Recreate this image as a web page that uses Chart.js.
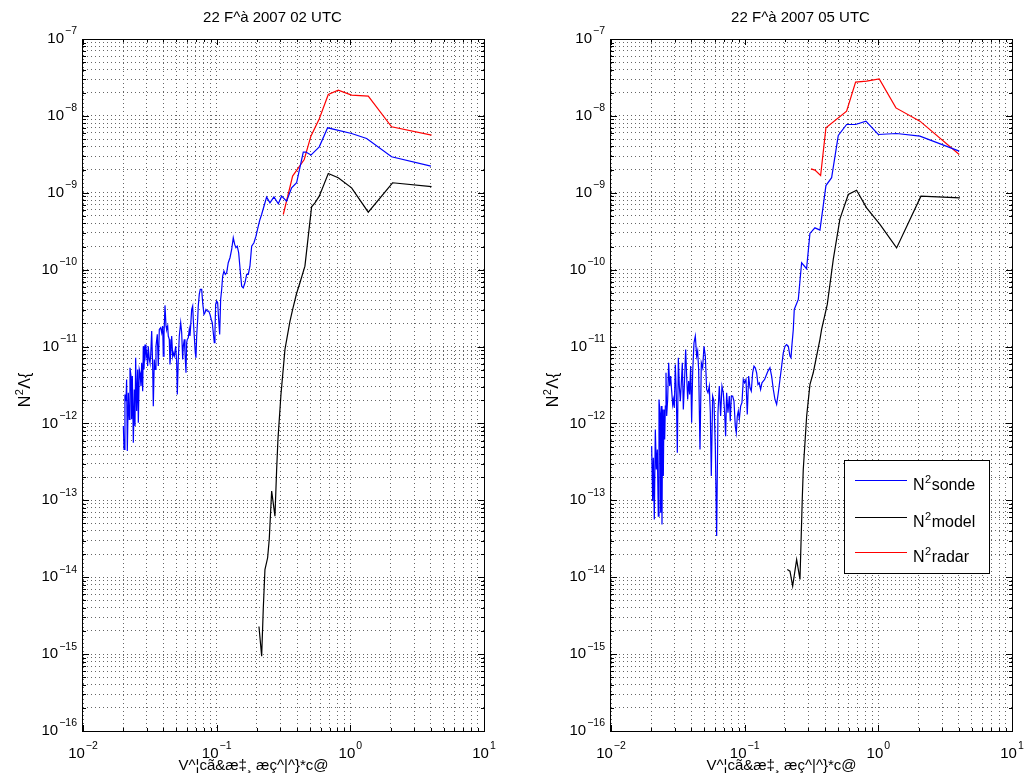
<!DOCTYPE html>
<html><head><meta charset="utf-8">
<script src="https://cdn.jsdelivr.net/npm/chart.js@4.4.0/dist/chart.umd.min.js"></script>
<style>
html,body{margin:0;padding:0;background:#fff;}
#wrap{position:relative;width:1024px;height:780px;overflow:hidden;}
canvas{position:absolute;top:0;}
</style></head><body>
<div id="wrap">
<canvas id="c1" width="512" height="780" style="left:0"></canvas>
<canvas id="c2" width="512" height="780" style="left:512px"></canvas>
</div>
<script>
// ---------- text ----------
const titles = ['22 F^à 2007 02 UTC', '22 F^à 2007 05 UTC'];
const xLabel = 'V^¦cã&æ‡¸ æç^|^}*c@';
const yLabelParts = ['N', '2', 'Λ{'];
const legendNames = ['sonde', 'model', 'radar'];
const xTickExps = [-2, -1, 0, 1];
const yTickExps = [-16, -15, -14, -13, -12, -11, -10, -9, -8, -7];

// ---------- left panel (02 UTC) ----------
const sondeL_f = [0.02004,0.02027,0.0206,0.02097,0.0212,0.02146,0.02183,0.0222,0.02247,0.02286,
 0.02312,0.02339,0.0238,0.0242,0.02449,0.02477,0.0252,0.02565,0.02594,0.02637,
 0.0267,0.02715,0.02748,0.02796,0.02825,0.02858,0.0291,0.0296,0.02995,0.03047,
 0.03078,0.03132,0.0317,0.03209,0.03265,0.0332,0.03357,0.03415,0.03457,0.03516,
 0.03596,0.03659,0.03723,0.03813,0.0388,0.03947,0.03988,0.04036,0.04106,0.04178,
 0.04227,0.043,0.04345,0.0442,0.04474,0.0455,0.04607,0.04687,0.04736,0.0482,
 0.04937,0.05022,0.05075,0.05163,0.05253,0.0538,0.05474,0.05569,0.05627,0.05725,
 0.05794,0.05895,0.05966,0.06028,0.06133,0.0624,0.06315,0.0639,0.06501,0.06615,
 0.06683,0.068,0.06918,0.07002,0.07086,0.07209,0.07284,0.07411,0.0754,0.07724,
 0.07858,0.08035,0.08175,0.08318,0.08507,0.08715,0.08912,0.09114,0.09273,0.09435,
 0.096,0.09712,0.09828,0.1,0.1017,0.1035,0.1053,0.1071,0.109,0.1109,
 0.1134,0.116,0.1188,0.1221,0.1258,0.1295,0.1331,0.1364,0.1394,0.1426,
 0.1461,0.1494,0.1538,0.1581,0.1628,0.1677,0.1724,0.1774,0.1827,0.1901,
 0.1968,0.2048,0.2108,
 0.2169,0.2364,0.2504,0.2683,0.2891,0.3061,0.3336,0.3637,0.3963,0.4446,0.4655,0.5074,0.5856,0.6761,1.022,1.324,2.035,4.007];
const sondeL_v = [9.25e-13,4.59e-13,2.38e-12,1.95e-12,3.73e-12,4.37e-13,2.51e-12,1.13e-12,5.30e-12,4.13e-12,
 1.13e-12,4.13e-12,5.61e-13,2.77e-12,9.25e-13,7.14e-12,1.45e-12,5.04e-12,1.02e-12,5.04e-12,
 4.56e-12,3.06e-12,6.15e-12,2.63e-12,1.01e-11,5.04e-12,1.06e-11,7.52e-12,8.30e-12,5.57e-12,
 1.01e-11,6.79e-12,6.15e-12,7.52e-12,1.59e-11,5.57e-12,1.68e-12,6.79e-12,5.04e-12,1.01e-11,
 1.44e-11,5.57e-12,1.67e-11,1.76e-11,1.51e-11,1.85e-11,7.52e-12,1.44e-11,3.43e-11,1.85e-11,
 1.67e-11,1.85e-11,1.37e-11,1.24e-11,5.85e-12,9.16e-12,1.37e-11,7.52e-12,8.30e-12,7.52e-12,
 1.01e-11,6.15e-12,2.38e-12,6.79e-12,1.37e-11,2.04e-11,1.51e-11,6.79e-12,1.01e-11,1.24e-11,
 8.30e-12,4.56e-12,1.12e-11,1.24e-11,1.30e-11,1.67e-11,1.37e-11,1.85e-11,3.04e-11,3.36e-11,
 2.25e-11,1.37e-11,8.30e-12,7.14e-12,1.37e-11,2.25e-11,3.36e-11,4.76e-11,5.53e-11,5.53e-11,
 3.71e-11,2.62e-11,2.75e-11,3.04e-11,2.89e-11,2.89e-11,2.62e-11,2.25e-11,2.04e-11,1.51e-11,
 1.12e-11,1.51e-11,3.53e-11,3.90e-11,3.71e-11,2.25e-11,1.44e-11,4.10e-11,5.53e-11,8.24e-11,
 9.57e-11,8.67e-11,9.10e-11,1.23e-10,1.43e-10,1.83e-10,2.60e-10,2.13e-10,1.93e-10,2.02e-10,
 1.66e-10,1.06e-10,6.11e-11,5.81e-11,6.75e-11,8.67e-11,8.67e-11,1.11e-10,2.02e-10,2.24e-10,
 2.73e-10,3.68e-10,4.50e-10,
 5.22e-10,8.78e-10,7.41e-10,8.86e-10,7.19e-10,9.04e-10,7.79e-10,1.16e-9,1.35e-9,3.38e-9,3.38e-9,3.09e-9,3.96e-9,7.0e-9,5.9e-9,5.08e-9,2.94e-9,2.22e-9];
const modelL_f = [0.2072,0.2171,0.2231,0.2297,0.2406,0.2473,0.2579,0.2729,0.2810,0.2874,0.3027,0.3243,0.3533,0.3703,0.396,0.4198,0.4574,0.4846,0.5132,0.5435,0.5856,0.684,0.812,1.022,1.362,2.07,4.053];
const modelL_v = [2.29e-15,9.4e-16,3.81e-15,1.26e-14,1.79e-14,3.1e-14,1.32e-13,6.2e-14,2.52e-13,6.2e-13,2.38e-12,9.2e-12,2.12e-11,3.04e-11,4.9e-11,6.75e-11,1.11e-10,2.73e-10,6.57e-10,7.41e-10,9.04e-10,1.78e-9,1.57e-9,1.16e-9,5.6e-10,1.35e-9,1.2e-9];
const radarL_f = [0.315,0.370,0.452,0.507,0.586,0.684,0.812,1.022,1.362,2.035,4.053];
const radarL_v = [5.22e-10,1.65e-9,2.71e-9,5.45e-9,9.16e-9,1.90e-8,2.16e-8,1.86e-8,1.81e-8,7.21e-9,5.62e-9];

// ---------- right panel (05 UTC) ----------
const sondeR_f = [0.02014,0.02049,0.02073,0.02109,0.02146,0.02183,0.02221,0.02259,0.02286,0.02326,
 0.02353,0.02380,0.02407,0.02435,0.02463,0.02492,0.02521,0.02550,0.02579,0.02609,
 0.02654,0.02700,0.02747,0.02795,0.02844,0.02893,0.02926,0.02977,0.03029,0.03082,
 0.03135,0.03190,0.03245,0.03302,0.03359,0.03417,0.03476,0.03537,0.03619,0.03681,
 0.03745,0.03810,0.03877,0.03944,0.04012,0.04082,0.04177,0.04274,0.04373,0.04449,
 0.04526,0.04632,0.04739,0.04849,0.04962,0.05077,0.05194,0.05315,0.05439,0.05534,
 0.05629,0.05760,0.05894,0.06030,0.06171,0.06314,0.06461,0.06610,0.06764,0.06921,
 0.07082,0.07204,0.07329,0.07500,0.07674,0.07806,0.07943,0.08128,0.08318,0.08509,
 0.08658,0.08809,0.08963,0.09120,0.09329,0.09546,0.09768,0.09993,0.1023,0.1046,
 0.1071,0.1096,0.1121,0.1147,0.1174,0.1201,0.1229,0.1258,0.1286,0.1316,
 0.1347,0.1378,0.1410,0.1443,0.1494,0.1546,0.1591,0.1638,0.1685,0.1734,
 0.1785,0.1837,0.1891,0.1945,0.2002,0.2060,0.2121,0.2182,0.2220,0.2259,0.2311,
 0.2350,0.2519,0.2667,0.2906,0.3078,0.3355,0.3658,0.4055,0.4472,0.5016,0.5790,0.676,0.8076,0.999,1.370,2.047,4.03];
const sondeR_v = [5.07e-13,9.77e-14,3.58e-13,5.65e-14,8.36e-13,2.52e-13,4.59e-13,6.24e-14,2.05e-12,1.38e-12,
 6.89e-14,1.68e-12,4.86e-14,1.52e-12,2.07e-13,1.52e-12,6.19e-13,1.68e-12,4.56e-12,1.25e-12,
 2.05e-12,6.15e-12,3.06e-12,4.13e-12,2.63e-12,1.77e-12,2.05e-12,1.60e-12,5.85e-12,2.27e-12,
 4.16e-13,7.14e-12,3.06e-12,1.95e-12,3.38e-12,6.15e-12,1.52e-12,3.06e-12,9.17e-12,4.13e-12,
 2.05e-12,3.55e-12,2.38e-12,5.57e-12,1.02e-12,4.56e-12,1.12e-11,1.37e-11,7.51e-12,8.72e-12,
 5.04e-12,4.59e-13,6.15e-12,5.30e-12,1.01e-11,7.51e-12,2.77e-12,2.51e-12,3.06e-12,1.38e-12,
 2.07e-13,2.27e-12,1.95e-12,5.07e-13,3.43e-14,1.38e-12,3.06e-12,1.25e-12,3.06e-12,2.51e-12,
 1.38e-12,6.84e-13,2.51e-12,1.38e-12,2.27e-12,1.07e-12,2.27e-12,2.27e-12,1.95e-12,9.23e-13,
 7.56e-13,1.25e-12,1.45e-12,1.13e-12,1.68e-12,1.86e-12,3.73e-12,3.38e-12,3.73e-12,1.31e-12,
 4.13e-12,2.91e-12,2.63e-12,4.56e-12,5.57e-12,5.30e-12,4.56e-12,3.22e-12,3.38e-12,2.77e-12,
 3.38e-12,3.55e-12,3.73e-12,4.13e-12,4.79e-12,5.30e-12,4.13e-12,2.77e-12,2.05e-12,1.77e-12,
 2.51e-12,3.73e-12,5.57e-12,8.30e-12,1.01e-11,1.06e-11,1.01e-11,7.51e-12,7.14e-12,1.06e-11,1.67e-11,
 3.04e-11,4.10e-11,1.23e-10,1.03e-10,2.96e-10,3.50e-10,3.27e-10,1.24e-9,1.57e-9,5.56e-9,7.73e-9,7.73e-9,8.54e-9,5.73e-9,5.90e-9,5.45e-9,3.48e-9];
const modelR_f = [0.2083,0.2182,0.2286,0.2448,0.2593,0.2697,0.2744,0.2909,0.3078,0.3258,0.3658,0.3763,0.4150,0.4602,0.5162,0.5958,0.6877,0.8168,1.028,1.370,2.083,4.076];
const modelR_v = [1.26e-14,1.2e-14,7.66e-15,1.70e-14,9.36e-15,1.03e-13,2.52e-13,1.24e-12,3.2e-12,4.56e-12,1.24e-11,1.67e-11,3.53e-11,1.36e-10,4.59e-10,9.50e-10,1.08e-9,6.37e-10,3.87e-10,1.92e-10,9.04e-10,8.6e-10];
const radarR_f = [0.3132,0.3355,0.3700,0.4055,0.5790,0.6760,0.8168,1.016,1.354,2.047,4.03];
const radarR_v = [2.05e-9,1.97e-9,1.68e-9,7.0e-9,1.15e-8,2.75e-8,2.83e-8,3.03e-8,1.27e-8,8.54e-9,3.15e-9];

const colors = ['#0000ff', '#000000', '#ff0000'];
const FONT = "'Liberation Sans', Arial, sans-serif";

function zip(f, v) { return f.map((x, i) => ({x: x, y: v[i]})); }
function gridValues(exps) {
  const out = [];
  for (let k = 0; k < exps.length; k++) {
    const e = exps[k];
    if (k === exps.length - 1) { out.push({value: Number('1e' + e), major: true}); break; }
    for (let m = 1; m <= 9; m++) out.push({value: Number(m + 'e' + e), major: m === 1});
  }
  return out;
}
const xGrid = gridValues(xTickExps);
const yGrid = gridValues(yTickExps);

function drawPow(ctx, exp, x, y, align) {
  const base = '10', sup = String(exp).replace('-', '\u2212');
  ctx.font = '15px ' + FONT;
  const wb = ctx.measureText(base).width;
  ctx.font = '10.5px ' + FONT;
  const ws = ctx.measureText(sup).width;
  const total = wb + ws + 1;
  let sx = align === 'right' ? x - total : x - total / 2;
  ctx.textAlign = 'left'; ctx.textBaseline = 'middle'; ctx.fillStyle = '#000';
  ctx.font = '15px ' + FONT; ctx.fillText(base, sx, y);
  ctx.font = '10.5px ' + FONT; ctx.fillText(sup, sx + wb + 1, y - 7.5);
}

function drawSupText(ctx, parts, x, y, size, align) {
  ctx.font = size + 'px ' + FONT;
  const w0 = ctx.measureText(parts[0]).width;
  const w2 = ctx.measureText(parts[2]).width;
  ctx.font = Math.round(size * 0.7) + 'px ' + FONT;
  const w1 = ctx.measureText(parts[1]).width;
  const total = w0 + w1 + w2 + 1;
  let sx = align === 'center' ? x - total / 2 : x;
  ctx.textAlign = 'left'; ctx.textBaseline = 'alphabetic'; ctx.fillStyle = '#000';
  ctx.font = size + 'px ' + FONT; ctx.fillText(parts[0], sx, y);
  ctx.font = Math.round(size * 0.7) + 'px ' + FONT; ctx.fillText(parts[1], sx + w0 + 0.5, y - size * 0.45);
  ctx.font = size + 'px ' + FONT; ctx.fillText(parts[2], sx + w0 + w1 + 1, y);
}

const decorPlugin = {
  id: 'decor',
  afterDraw(chart) {
    const ctx = chart.ctx, a = chart.chartArea, xs = chart.scales.x, ys = chart.scales.y;
    const p = chart.options.plugins.decor;
    ctx.save();
    // tick marks (inside, all four sides)
    ctx.strokeStyle = '#000'; ctx.lineWidth = 1; ctx.setLineDash([]);
    ctx.beginPath();
    xGrid.forEach(t => {
      const px = Math.round(xs.getPixelForValue(t.value)) + 0.5;
      const L = t.major ? 6 : 3;
      ctx.moveTo(px, a.bottom); ctx.lineTo(px, a.bottom - L);
      ctx.moveTo(px, a.top); ctx.lineTo(px, a.top + L);
    });
    yGrid.forEach(t => {
      const py = Math.round(ys.getPixelForValue(t.value)) + 0.5;
      const L = t.major ? 6 : 3;
      ctx.moveTo(a.left, py); ctx.lineTo(a.left + L, py);
      ctx.moveTo(a.right, py); ctx.lineTo(a.right - L, py);
    });
    ctx.stroke();
    // frame
    ctx.strokeRect(Math.round(a.left) - 0.5, Math.round(a.top) + 0.5, Math.round(a.right - a.left) + 1, Math.round(a.bottom - a.top));
    // tick labels
    xTickExps.forEach(e => drawPow(ctx, e, xs.getPixelForValue(Number('1e' + e)), a.bottom + 23, 'center'));
    yTickExps.forEach(e => drawPow(ctx, e, a.left - 6, ys.getPixelForValue(Number('1e' + e)), 'right'));
    // title
    const cx = (a.left + a.right) / 2;
    ctx.fillStyle = '#000'; ctx.textAlign = 'center'; ctx.textBaseline = 'alphabetic';
    ctx.font = '15px ' + FONT;
    ctx.fillText(p.title, cx - 11, 22);
    // x label
    ctx.fillText(xLabel, cx - 30, 770);
    // y label
    ctx.save();
    ctx.translate(a.left - 53, (a.top + a.bottom) / 2 + 5);
    ctx.rotate(-Math.PI / 2);
    drawSupText(ctx, yLabelParts, 0, 0, 16, 'center');
    ctx.restore();
    // legend
    if (p.legend) {
      const bx = a.right - 168, by = 460, bw = 145, bh = 113;
      ctx.fillStyle = '#fff'; ctx.fillRect(bx, by, bw, bh);
      ctx.strokeStyle = '#000'; ctx.lineWidth = 1;
      ctx.strokeRect(bx + 0.5, by + 0.5, bw, bh);
      const rows = [480, 517, 552];
      rows.forEach((ry, i) => {
        ctx.strokeStyle = colors[i]; ctx.lineWidth = 1.2;
        ctx.beginPath(); ctx.moveTo(bx + 11, ry + 0.5); ctx.lineTo(bx + 63, ry + 0.5); ctx.stroke();
        drawSupText(ctx, ['N', '2', legendNames[i]], bx + 69, ry + 10, 16, 'left');
      });
    }
    ctx.restore();
  }
};

function makeChart(id, panel) {
  return new Chart(document.getElementById(id), {
    type: 'line',
    data: {
      datasets: [
        {label: legendNames[0], data: zip(panel.sf, panel.sv), borderColor: colors[0]},
        {label: legendNames[1], data: zip(panel.mf, panel.mv), borderColor: colors[1]},
        {label: legendNames[2], data: zip(panel.rf, panel.rv), borderColor: colors[2]}
      ].map(d => Object.assign(d, {borderWidth: 1.2, pointRadius: 0, fill: false, tension: 0}))
    },
    options: {
      responsive: false, animation: false, devicePixelRatio: 1,
      layout: {padding: panel.pad},
      plugins: {legend: {display: false}, title: {display: false}, tooltip: {enabled: false},
        decor: {title: panel.title, legend: panel.legend}},
      scales: {
        x: {type: 'logarithmic', min: 0.01, max: 10,
          ticks: {display: false},
          grid: {color: '#666', lineWidth: 1, drawTicks: false},
          border: {display: false, dash: [1, 3]},
          afterBuildTicks: s => { s.ticks = xGrid.map(t => ({value: t.value})); },
          afterFit: s => { s.height = 0; }},
        y: {type: 'logarithmic', min: 1e-16, max: 1e-7,
          ticks: {display: false},
          grid: {color: '#666', lineWidth: 1, drawTicks: false},
          border: {display: false, dash: [1, 3]},
          afterBuildTicks: s => { s.ticks = yGrid.map(t => ({value: t.value})); },
          afterFit: s => { s.width = 0; }}
      }
    },
    plugins: [decorPlugin]
  });
}

makeChart('c1', {title: titles[0], sf: sondeL_f, sv: sondeL_v, mf: modelL_f, mv: modelL_v, rf: radarL_f, rv: radarL_v,
  legend: false, pad: {left: 83, right: 28, top: 39, bottom: 49}});
makeChart('c2', {title: titles[1], sf: sondeR_f, sv: sondeR_v, mf: modelR_f, mv: modelR_v, rf: radarR_f, rv: radarR_v,
  legend: true, pad: {left: 99, right: 12, top: 39, bottom: 49}});
</script>
</body></html>
